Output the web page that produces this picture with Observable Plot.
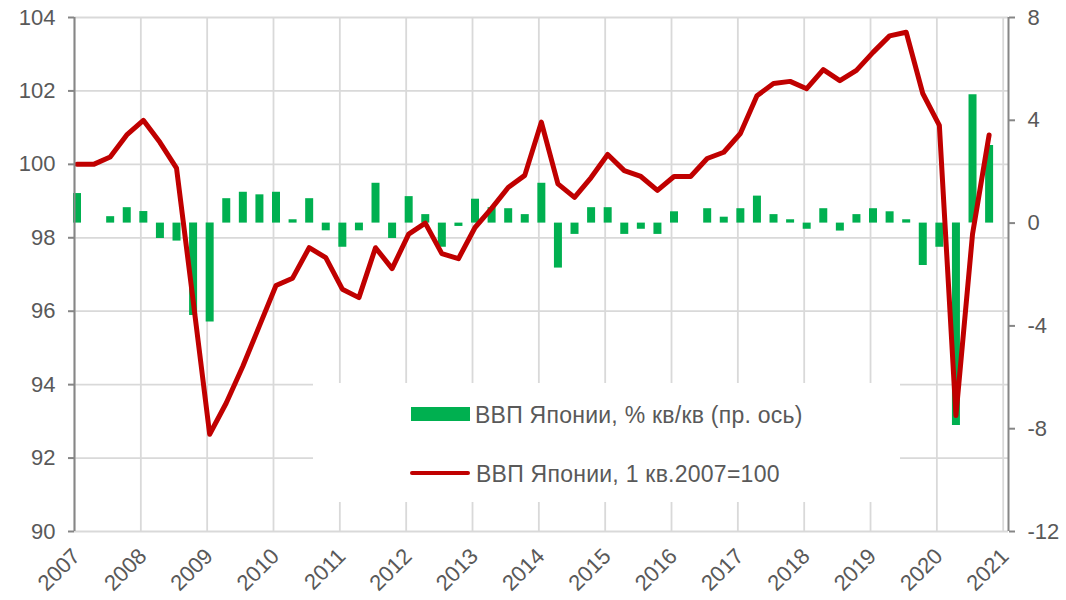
<!DOCTYPE html>
<html>
<head>
<meta charset="utf-8">
<script src="https://cdn.jsdelivr.net/npm/d3@7"></script>
<script src="https://cdn.jsdelivr.net/npm/@observablehq/plot@0.6"></script>
<style>
  html, body { margin: 0; padding: 0; background: #fff; }
  #wrap { position: relative; width: 1066px; height: 600px; font-family: "Liberation Sans", Arial, sans-serif; }
  #legend { position: absolute; left: 313px; top: 383px; width: 587px; height: 119px; background: #fff; }
  #legend .sw { position: absolute; }
  #legend .lbl { position: absolute; font-size: 23px; line-height: 23px; color: #595959; white-space: nowrap; letter-spacing: 0.25px; }
</style>
</head>
<body>
<div id="wrap">
  <div id="chart"></div>
  <div id="legend"></div>
</div>
<script>
// ---- data ----
const years = ["2007","2008","2009","2010","2011","2012","2013","2014","2015","2016","2017","2018","2019","2020","2021"];
const quarters = [];
for (const y of years.slice(0, 14)) for (const q of ["Q1","Q2","Q3","Q4"]) quarters.push(y + q);

// GDP index, Q1 2007 = 100 (left axis)
const gdpIndex = [
  100.0, 100.0, 100.2, 100.8,
  101.2, 100.6, 99.9, 96.3,
  92.65, 93.5, 94.5, 95.6,
  96.7, 96.9, 97.73, 97.46,
  96.6, 96.37, 97.73, 97.16,
  98.1, 98.4, 97.57, 97.43,
  98.28, 98.8, 99.37, 99.7,
  101.15, 99.47, 99.1, 99.64,
  100.27, 99.83, 99.67, 99.29,
  99.67, 99.67, 100.16, 100.33,
  100.84, 101.87, 102.2, 102.26,
  102.06, 102.58, 102.28, 102.56,
  103.05, 103.5, 103.6, 101.93,
  101.06, 93.16, 98.1, 100.8
];
// GDP, % q/q (right axis)
const gdpQoQ = [
  1.15, 0.0, 0.25, 0.6,
  0.45, -0.6, -0.7, -3.6,
  -3.85, 0.95, 1.2, 1.1,
  1.2, 0.13, 0.95, -0.3,
  -0.94, -0.3, 1.55, -0.6,
  1.03, 0.33, -0.94, -0.13,
  0.93, 0.6, 0.56, 0.33,
  1.55, -1.75, -0.44, 0.6,
  0.6, -0.44, -0.24, -0.44,
  0.44, 0.0, 0.56, 0.23,
  0.56, 1.05, 0.33, 0.13,
  -0.24, 0.56, -0.31, 0.33,
  0.56, 0.44, 0.13, -1.65,
  -0.94, -7.88, 4.99, 3.02
];
const leftTicks = [90, 92, 94, 96, 98, 100, 102, 104];
const rightTicks = [-12, -8, -4, 0, 4, 8];
const seriesNames = ["ВВП Японии, % кв/кв (пр. ось)", "ВВП Японии, 1 кв.2007=100"];

// ---- scales mapping (right axis -> left axis units) ----
const L0 = 90, L1 = 104, R0 = -12, R1 = 8;
const k = (L1 - L0) / (R1 - R0);
const toLeft = v => L0 + (v - R0) * k;
const fromLeft = d => Math.round((d - L0) / k + R0);

const data = quarters.map((q, i) => ({ i, q, idx: gdpIndex[i], qoq: gdpQoQ[i], qoqL: toLeft(gdpQoQ[i]) }));
const zeroL = toLeft(0);
const xMax = 56.32;
const yearPos = years.map((y, j) => ({ y, x: j * 4 }));

const green = "#00b050", red = "#c00000", grid = "#d9d9d9", axisCol = "#868686", textCol = "#595959";

const chart = Plot.plot({
  width: 1066, height: 600,
  marginLeft: 74, marginRight: 58, marginTop: 17, marginBottom: 69,
  x: { domain: [0, xMax], axis: null },
  y: { domain: [L0, L1], axis: null },
  style: { fontFamily: "'Liberation Sans', Arial, sans-serif", fontSize: "22px", color: textCol, background: "white", overflow: "visible" },
  marks: [
    Plot.ruleY(leftTicks, { stroke: grid, strokeWidth: 1.8 }),
    Plot.ruleX(yearPos, { x: "x", stroke: grid, strokeWidth: 1.8 }),
    Plot.ruleX(data, { x: "i", y1: () => zeroL, y2: "qoqL", stroke: green, strokeWidth: 8, dx: 2.5 }),
    Plot.line(data, { x: "i", y: "idx", stroke: red, strokeWidth: 5, dx: 2.5, strokeLinejoin: "round", strokeLinecap: "round" }),
    Plot.ruleX([0], { stroke: axisCol, strokeWidth: 2 }),
    Plot.ruleX([xMax], { stroke: axisCol, strokeWidth: 2 }),
    Plot.axisY(leftTicks, { anchor: "left", tickSize: 6, tickPadding: 13, stroke: axisCol, strokeWidth: 2, fill: textCol, fontSize: 22, tickFormat: d => String(d) }),
    Plot.axisY(rightTicks.map(toLeft), { anchor: "right", tickSize: 6, tickPadding: 13, stroke: axisCol, strokeWidth: 2, fill: textCol, fontSize: 22, tickFormat: d => String(fromLeft(d)) }),
    Plot.text(yearPos, { x: "x", y: () => L0, text: "y", rotate: -45, textAnchor: "end", dx: 2, dy: 21, fill: textCol, fontSize: 22 })
  ]
});
document.getElementById("chart").appendChild(chart);

// ---- legend ----
const lg = document.getElementById("legend");
const sw1 = document.createElement("div");
sw1.className = "sw";
Object.assign(sw1.style, { left: "98px", top: "24px", width: "59px", height: "14px", background: green });
const t1 = document.createElement("div");
t1.className = "lbl"; t1.textContent = seriesNames[0];
Object.assign(t1.style, { left: "162px", top: "21px" });
const sw2 = document.createElement("div");
sw2.className = "sw";
Object.assign(sw2.style, { left: "97px", top: "87.5px", width: "60px", height: "4.5px", background: red, borderRadius: "2.25px" });
const t2 = document.createElement("div");
t2.className = "lbl"; t2.textContent = seriesNames[1];
Object.assign(t2.style, { left: "163px", top: "80px" });
lg.append(sw1, t1, sw2, t2);
</script>
</body>
</html>
